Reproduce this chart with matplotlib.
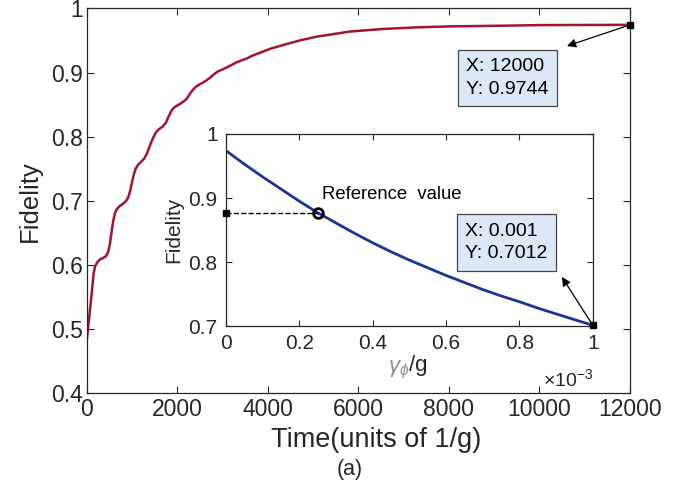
import matplotlib
matplotlib.use('Agg')
import matplotlib.pyplot as plt

plt.rcParams['font.family'] = ['Liberation Sans', 'DejaVu Sans']
plt.rcParams['mathtext.fontset'] = 'custom'
plt.rcParams['mathtext.rm'] = 'Liberation Sans'
plt.rcParams['mathtext.it'] = 'Liberation Sans:italic'

# main curve: fidelity vs time
time = [0, 60, 110, 150, 183, 240, 294, 360, 426, 480, 514, 550, 588, 625, 662, 730,
        808, 870, 919, 960, 1000, 1040, 1080, 1130, 1215, 1270, 1325, 1400, 1471, 1530,
        1600, 1680, 1750, 1800, 1860, 1920, 1980, 2060, 2140, 2208, 2280, 2355, 2430,
        2502, 2580, 2650, 2740, 2820, 2900, 3000, 3092, 3200, 3313, 3420, 3534, 3650,
        3754, 4050, 4342, 4700, 5079, 5450, 5815, 6550, 7288, 8023, 9128, 10011, 11000,
        12000]
fid = [0.483, 0.522, 0.556, 0.585, 0.598, 0.605, 0.609, 0.611, 0.614, 0.622, 0.634,
       0.652, 0.670, 0.681, 0.687, 0.692, 0.696, 0.700, 0.706, 0.716, 0.729, 0.741,
       0.750, 0.756, 0.762, 0.766, 0.773, 0.787, 0.799, 0.807, 0.812, 0.816, 0.822,
       0.830, 0.839, 0.845, 0.848, 0.851, 0.855, 0.859, 0.867, 0.874, 0.879, 0.882,
       0.885, 0.888, 0.893, 0.898, 0.902, 0.905, 0.908, 0.912, 0.916, 0.919, 0.922,
       0.926, 0.929, 0.937, 0.943, 0.950, 0.956, 0.960, 0.964, 0.968, 0.9705, 0.972,
       0.973, 0.974, 0.9742, 0.9744]

# inset: fidelity vs dephasing rate (x in units of 1e-3)
gam = [0, 0.05, 0.1, 0.15, 0.2, 0.25, 0.3, 0.35, 0.4, 0.45, 0.5, 0.55, 0.6, 0.65, 0.7,
       0.75, 0.8, 0.85, 0.9, 0.95, 1.0]
fid_in = [0.974, 0.953, 0.933, 0.914, 0.895, 0.877, 0.861, 0.845, 0.830, 0.816, 0.803,
          0.791, 0.779, 0.768, 0.757, 0.747, 0.738, 0.728, 0.719, 0.710, 0.7012]
ref_x, ref_y = 0.25, 0.877

tip_main = (12000, 0.9744)
tip_in = (1.0, 0.7012)

RED = '#a2142f'
BLUE = '#1a3596'
GREY = '#262626'
TIPFACE = '#dce8f8'

fig = plt.figure(figsize=(6.97, 4.95), dpi=100)
ax = fig.add_axes([0.1244, 0.2051, 0.7795, 0.7779])
ax.plot(time, fid, color=RED, lw=1.8)
ax.plot(*tip_main, 's', color='k', ms=5, clip_on=False, zorder=5)
ax.set_xlim(0, 12000)
ax.set_ylim(0.4, 1)
ax.set_xticks(range(0, 12001, 2000))
ax.set_yticks([0.4, 0.5, 0.6, 0.7, 0.8, 0.9, 1.0])
ax.set_yticklabels(['0.4', '0.5', '0.6', '0.7', '0.8', '0.9', '1'])
ax.tick_params(direction='in', top=True, right=True, labelsize=16.5, colors=GREY,
               length=5, width=0.8, pad=3)
for s in ax.spines.values():
    s.set_color(GREY)
    s.set_linewidth(0.9)
ax.set_ylabel('Fidelity', fontsize=18.5, color=GREY, labelpad=6)
fig.text(376 / 697, 1 - 440 / 495, 'Time(units of 1/g)', fontsize=19.5, color=GREY,
         ha='center', va='center')
fig.text(350 / 697, 1 - 470 / 495, '(a)', fontsize=15.5, color=GREY,
         ha='center', va='center')

ax.annotate('', xy=(10607, 0.9414), xytext=tip_main,
            arrowprops=dict(arrowstyle='-|>', color='k', lw=0.9, mutation_scale=13,
                            shrinkA=3, shrinkB=0))
ax.text(8380, 0.8915, 'X: 12000\nY: 0.9744', fontsize=14, color='k',
        ha='left', va='center', linespacing=1.45,
        bbox=dict(boxstyle='square,pad=0.42', fc=TIPFACE, ec='#444444', lw=0.9))

# inset
axi = fig.add_axes([0.3242, 0.3414, 0.5262, 0.3879])
axi.plot(gam, fid_in, color=BLUE, lw=2)
axi.plot([0, ref_x], [ref_y, ref_y], '--', color='k', lw=1)
axi.plot(0, ref_y, 's', color='k', ms=5, clip_on=False, zorder=5)
axi.plot(ref_x, ref_y, 'o', mfc='none', mec='k', mew=2, ms=7, zorder=5)
axi.plot(*tip_in, 's', color='k', ms=5, clip_on=False, zorder=5)
axi.set_xlim(0, 1)
axi.set_ylim(0.7, 1)
axi.set_xticks([0, 0.2, 0.4, 0.6, 0.8, 1.0])
axi.set_xticklabels(['0', '0.2', '0.4', '0.6', '0.8', '1'])
axi.set_yticks([0.7, 0.8, 0.9, 1.0])
axi.set_yticklabels(['0.7', '0.8', '0.9', '1'])
axi.tick_params(direction='in', top=True, right=True, labelsize=15, colors=GREY,
                length=4, width=0.8, pad=6)
for s in axi.spines.values():
    s.set_color(GREY)
    s.set_linewidth(0.9)
axi.set_ylabel('Fidelity', fontsize=15, color=GREY, labelpad=4)
axi.text(0.5, -0.23, r'$\gamma_\phi$', color='#909090', fontsize=16,
         transform=axi.transAxes, ha='right', va='center')
axi.text(0.5, -0.205, '/g', color=GREY, fontsize=16,
         transform=axi.transAxes, ha='left', va='center')
axi.text(1.0, -0.275, r'$\times$10$^{-3}$', color=GREY, fontsize=14,
         transform=axi.transAxes, ha='right', va='center')
axi.text(0.261, 0.906, 'Reference  value', fontsize=13.3, color='k',
         ha='left', va='center')
axi.annotate('', xy=(0.916, 0.7766), xytext=tip_in,
             arrowprops=dict(arrowstyle='-|>', color='k', lw=0.9, mutation_scale=13,
                             shrinkA=3, shrinkB=0))
axi.text(0.652, 0.8305, 'X: 0.001\nY: 0.7012', fontsize=14, color='k',
         ha='left', va='center', linespacing=1.45,
         bbox=dict(boxstyle='square,pad=0.42', fc=TIPFACE, ec='#444444', lw=0.9))

fig.savefig('out.png', dpi=100)
